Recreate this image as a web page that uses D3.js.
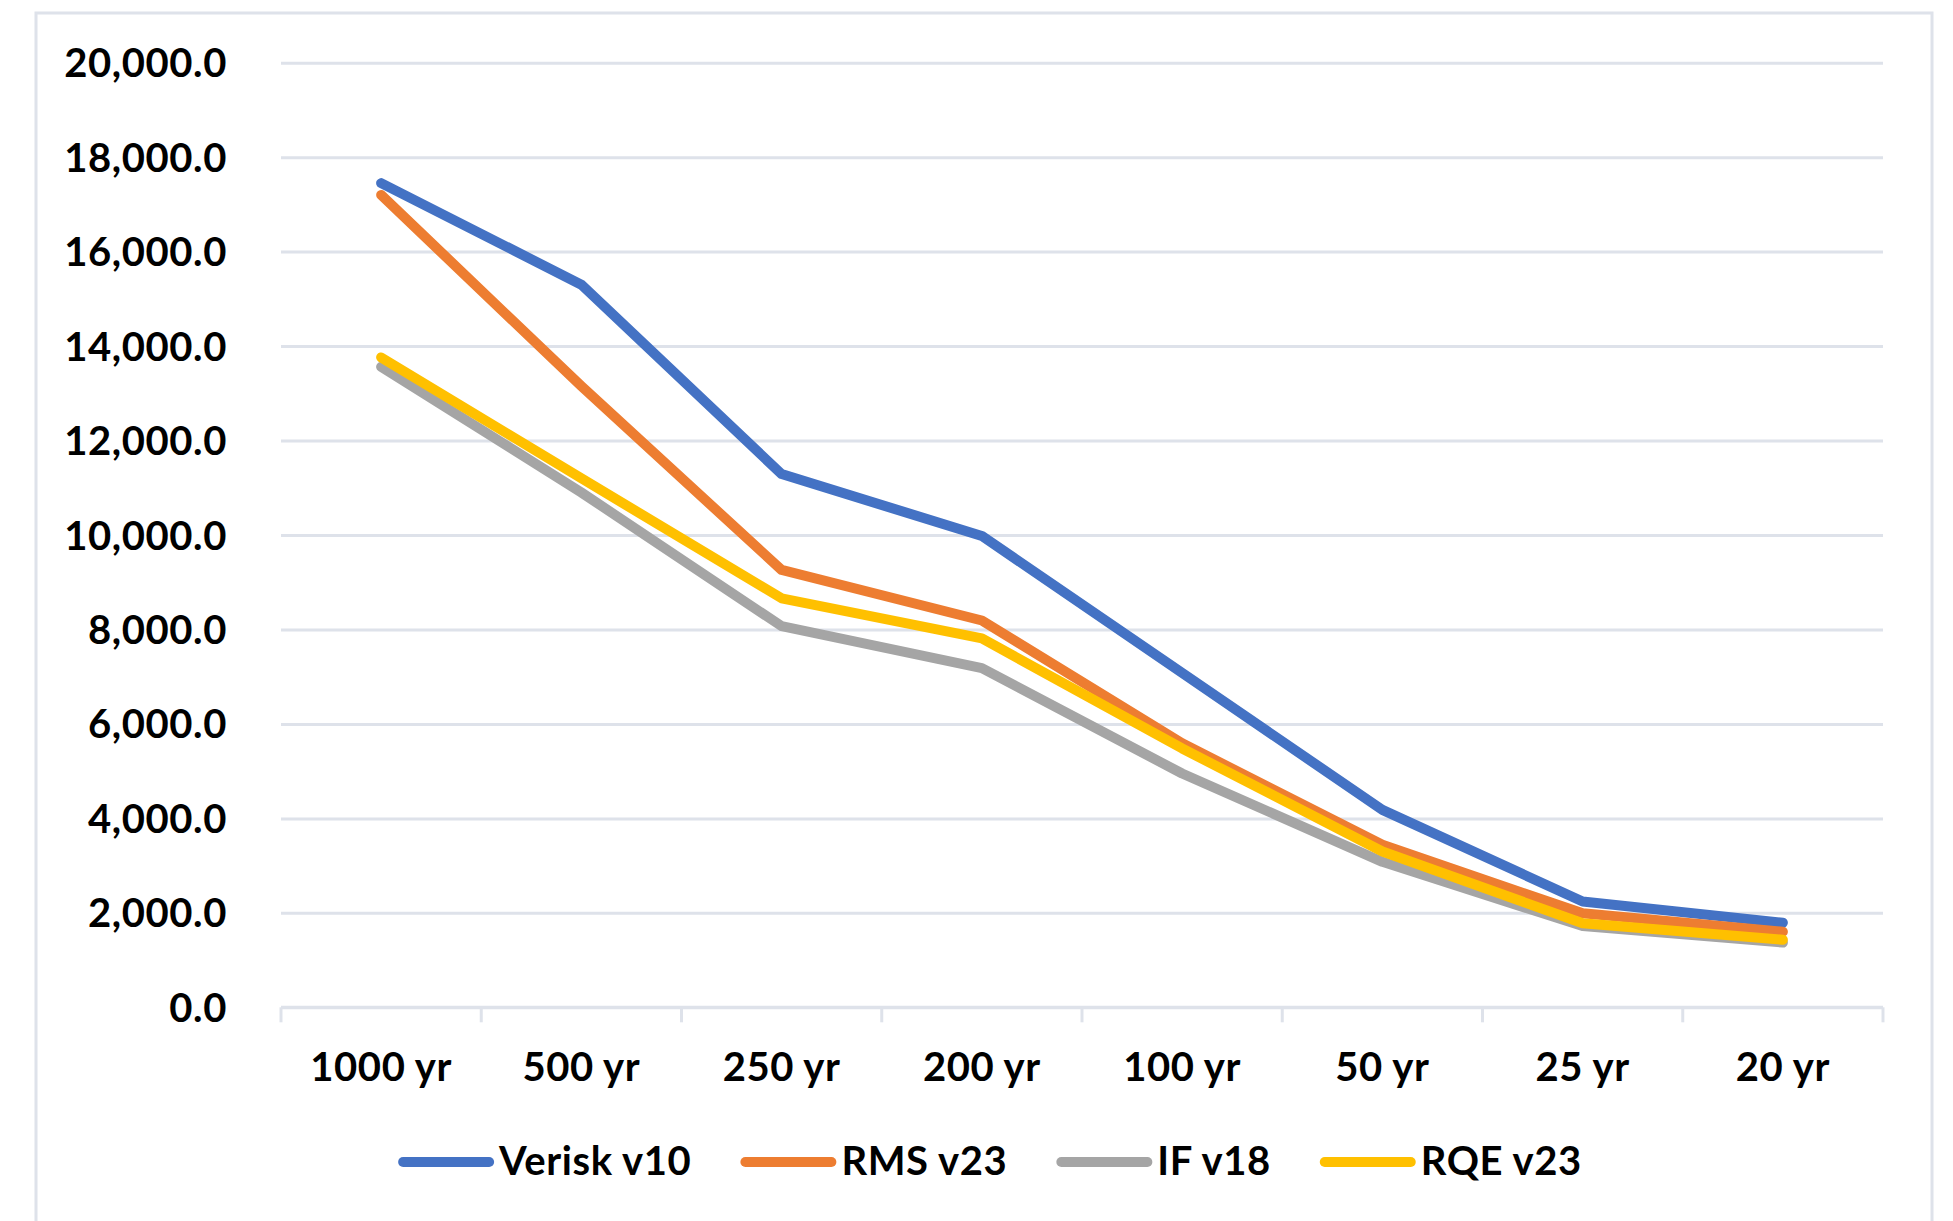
<!DOCTYPE html>
<html>
<head>
<meta charset="utf-8">
<script src="https://cdn.jsdelivr.net/npm/d3@7"></script>
<style>
  html, body { margin: 0; padding: 0; background: #ffffff; }
  svg { display: block; }
  text { font-family: Lato, "Open Sans", "DejaVu Sans", sans-serif; font-weight: 700; fill: #000; letter-spacing: 0.6px; }
</style>
</head>
<body>
<svg id="chart" width="1953" height="1221"></svg>
<script>
// Return periods along the x axis
const categories = ["1000 yr", "500 yr", "250 yr", "200 yr", "100 yr", "50 yr", "25 yr", "20 yr"];

// Loss estimates per model
const veriskV10 = [17450, 15300, 11290, 9980, 7080, 4180, 2240, 1790];
const rmsV23    = [17200, 13150, 9260, 8190, 5590, 3440, 1990, 1600];
const ifV18     = [13560, 10900, 8070, 7180, 4950, 3080, 1720, 1370];
const rqeV23    = [13760, 11200, 8660, 7810, 5480, 3300, 1780, 1430];

const seriesNames  = ["Verisk v10", "RMS v23", "IF v18", "RQE v23"];
const seriesColors = ["#4472C4", "#ED7D31", "#A5A5A5", "#FFC000"];

const yTicks = [0, 2000, 4000, 6000, 8000, 10000, 12000, 14000, 16000, 18000, 20000];

const series = [veriskV10, rmsV23, ifV18, rqeV23].map((values, i) => ({
  name: seriesNames[i], color: seriesColors[i], values
}));

const svg = d3.select("#chart");
const gridColor = "#DEE2EA";
const fontSize = 40;

// Outer chart frame
svg.append("rect")
  .attr("x", 36).attr("y", 13)
  .attr("width", 1896).attr("height", 1230)
  .attr("fill", "#fff")
  .attr("stroke", gridColor).attr("stroke-width", 3);

const plot = { left: 281, right: 1883, top: 62.7, bottom: 1007.3 };

const x = d3.scaleBand().domain(categories).range([plot.left, plot.right]).padding(0);
const y = d3.scaleLinear().domain([0, 20000]).range([plot.bottom, plot.top]);

// Horizontal gridlines + value labels
const yAxis = d3.axisLeft(y)
  .tickValues(yTicks)
  .tickSize(-(plot.right - plot.left))
  .tickPadding(54)
  .tickFormat(d3.format(",.1f"));

const gy = svg.append("g").attr("transform", `translate(${plot.left},0)`).call(yAxis);
gy.select(".domain").remove();
gy.selectAll(".tick line").attr("stroke", gridColor).attr("stroke-width", 3);
gy.selectAll(".tick text")
  .attr("font-size", fontSize)
  .attr("dy", 14)
  .style("font-family", "Lato, 'Open Sans', sans-serif")
  .style("font-weight", 700)
  .attr("fill", "#000");

// Category axis: baseline, boundary ticks, centred labels
const gx = svg.append("g");
gx.append("line")
  .attr("x1", plot.left).attr("x2", plot.right)
  .attr("y1", y(0)).attr("y2", y(0))
  .attr("stroke", gridColor).attr("stroke-width", 3);

const boundaries = categories.map(c => x(c)).concat([x(categories[categories.length - 1]) + x.bandwidth()]);
gx.selectAll("line.btick").data(boundaries).join("line")
  .attr("class", "btick")
  .attr("x1", d => d).attr("x2", d => d)
  .attr("y1", y(0)).attr("y2", y(0) + 15)
  .attr("stroke", gridColor).attr("stroke-width", 3);

gx.selectAll("text.cat").data(categories).join("text")
  .attr("class", "cat")
  .attr("x", d => x(d) + x.bandwidth() / 2)
  .attr("y", 1081)
  .attr("text-anchor", "middle")
  .attr("font-size", fontSize)
  .text(d => d);

// Series lines
const line = d3.line()
  .x((d, i) => x(categories[i]) + x.bandwidth() / 2)
  .y(d => y(d));

svg.append("g").selectAll("path").data(series).join("path")
  .attr("d", d => line(d.values))
  .attr("fill", "none")
  .attr("stroke", d => d.color)
  .attr("stroke-width", 10)
  .attr("stroke-linecap", "round")
  .attr("stroke-linejoin", "round");

// Legend, centred under the chart
const legend = svg.append("g");
const items = legend.selectAll("g").data(series).join("g");
items.append("line")
  .attr("x1", 5).attr("x2", 91)
  .attr("y1", 0).attr("y2", 0)
  .attr("stroke", d => d.color)
  .attr("stroke-width", 10)
  .attr("stroke-linecap", "round");
items.append("text")
  .attr("x", 101).attr("y", 13)
  .attr("font-size", fontSize)
  .text(d => d.name);

const gap = 49;
let offset = 0;
const positions = [];
items.each(function () {
  const w = 101 + d3.select(this).select("text").node().getComputedTextLength();
  positions.push(offset);
  offset += w + gap;
});
const total = offset - gap;
const startX = 990 - total / 2;
items.attr("transform", (d, i) => `translate(${startX + positions[i]},1162)`);
</script>
</body>
</html>
